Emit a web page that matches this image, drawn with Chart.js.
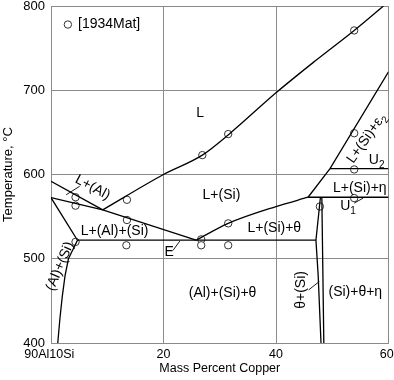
<!DOCTYPE html>
<html>
<head>
<meta charset="utf-8">
<script src="https://cdn.jsdelivr.net/npm/chart.js@4.4.1/dist/chart.umd.min.js"></script>
<style>
  html, body { margin: 0; padding: 0; background: #fff; }
  #wrap { width: 394px; height: 380px; position: relative; }
</style>
</head>
<body>
<div id="wrap"><canvas id="phaseChart"></canvas></div>
<script>
// phase boundaries, [mass % Cu, temperature °C]
const liquidusAl = [[0, 592], [9.2, 558]];
const liquidusSi = [[9.2, 558], [20, 600], [26.9, 623], [31.5, 647], [40, 697], [47, 735], [53.9, 771], [59.1, 800]];
const alSiTrough = [[0, 572.5], [9.2, 558], [25.8, 522]];
const alSolvus = [[0, 572.5], [4.7, 522], [3.9, 511], [3.1, 500], [2.5, 480], [2.0, 455], [1.6, 430], [1.2, 400]];
const eutecticE = [[4.7, 522], [47.1, 522]];
const thetaTrough = [[25.8, 522], [31.5, 542], [40, 562], [45.7, 573]];
const u1Line = [[45.7, 573], [60, 573]];
const etaTrough = [[45.7, 573], [49.6, 607], [60, 722]];
const u2Line = [[49.6, 607], [60, 607]];
const thetaLeft = [[47.9, 573], [47.1, 522], [47.5, 480], [48.0, 400]];
const thetaRight = [[48.15, 573], [48.5, 400]];

// leader ticks from labels
const leaders = [
  [[2.7, 576], [5.1, 586]],
  [[21.7, 510], [22.9, 521]],
  [[45.8, 463], [47.7, 473]],
  [[53.9, 566], [55.5, 572]]
];

// experimental points [1934Mat]
const matX = [4.36, 4.36, 4.36, 13.5, 13.5, 13.4, 26.7, 26.7, 26.9, 31.5, 31.5, 31.5, 47.8, 53.9, 53.9, 53.9, 53.9];
const matT = [573, 563, 520, 570, 546, 516, 523, 516, 623, 648, 542, 516, 562, 572, 606, 649, 771];
const legendPoint = [3.0, 778];

const xTicks = [0, 20, 40, 60];
const xTickNames = ['90Al10Si ', '20', '40', '60 '];
const yTicks = [400, 500, 600, 700, 800];

const regionLabels = [
  { text: '[1934Mat]', x: 4.8, y: 778, align: 'left' },
  { text: 'L', x: 26.5, y: 673 },
  { text: 'L+(Si)', x: 30.3, y: 576 },
  { text: 'L+(Si)+θ', x: 39.7, y: 536.5 },
  { text: 'L+(Al)+(Si)', x: 11.3, y: 533 },
  { text: 'L+(Al)', x: 7.4, y: 584.5, rot: 28 },
  { text: '(Al)+(Si)', x: 1.6, y: 491, rot: -67 },
  { text: 'E', x: 21.0, y: 508.4 },
  { text: '(Al)+(Si)+θ', x: 30.5, y: 459.4 },
  { text: 'θ+(Si)', x: 44.4, y: 463, rot: -90 },
  { text: '(Si)+θ+η', x: 54.1, y: 460.5 },
  { text: 'L+(Si)+η', x: 54.9, y: 584 },
  { text: 'U', sub: '2', x: 57.9, y: 617 },
  { text: 'U', sub: '1', x: 52.8, y: 562.6 },
  { text: 'L+(Si)+ε', sub: '2', x: 56.1, y: 643, rot: -55 }
];

const FONT = '"Liberation Sans", Arial, sans-serif';

const toPts = arr => arr.map(p => ({ x: p[0], y: p[1] }));

const lineSet = (pts, smooth) => ({
  data: toPts(pts),
  showLine: true,
  borderColor: '#000',
  borderWidth: 1.3,
  pointRadius: 0,
  fill: false,
  cubicInterpolationMode: smooth ? 'monotone' : 'default',
  tension: 0
});

const datasets = [
  lineSet(liquidusAl),
  lineSet(liquidusSi, true),
  lineSet(alSiTrough),
  lineSet(alSolvus),
  lineSet(eutecticE),
  lineSet(thetaTrough, true),
  lineSet(u1Line),
  lineSet(etaTrough),
  lineSet(u2Line),
  lineSet(thetaLeft),
  lineSet(thetaRight)
];
leaders.forEach(l => {
  const d = lineSet(l);
  d.borderWidth = 0.9;
  datasets.push(d);
});
datasets.push({
  data: matX.map((v, i) => ({ x: v, y: matT[i] })).concat([{ x: legendPoint[0], y: legendPoint[1] }]),
  showLine: false,
  pointRadius: 3.7,
  pointBorderWidth: 1,
  pointBorderColor: '#333',
  pointBackgroundColor: '#fff'
});

const labelPlugin = {
  id: 'regionLabels',
  afterDatasetsDraw(chart) {
    const { ctx, scales } = chart;
    ctx.save();
    ctx.fillStyle = '#000';
    ctx.textBaseline = 'middle';
    regionLabels.forEach(l => {
      const px = scales.x.getPixelForValue(l.x);
      const py = scales.y.getPixelForValue(l.y);
      ctx.save();
      ctx.translate(px, py);
      ctx.rotate((l.rot || 0) * Math.PI / 180);
      const main = '14px ' + FONT;
      const small = '10px ' + FONT;
      ctx.font = main;
      const w = ctx.measureText(l.text).width;
      let sw = 0;
      if (l.sub) {
        ctx.font = small;
        sw = ctx.measureText(l.sub).width;
      }
      const start = l.align === 'left' ? 0 : -(w + sw) / 2;
      ctx.textAlign = 'left';
      ctx.font = main;
      ctx.fillText(l.text, start, 0);
      if (l.sub) {
        ctx.font = small;
        ctx.fillText(l.sub, start + w, 5);
      }
      ctx.restore();
    });
    ctx.restore();
  }
};

new Chart(document.getElementById('phaseChart'), {
  type: 'scatter',
  data: { datasets },
  options: {
    responsive: true,
    maintainAspectRatio: false,
    animation: false,
    layout: { padding: { top: 6, right: 5.5, left: 0, bottom: 0 } },
    plugins: {
      legend: { display: false },
      tooltip: { enabled: false }
    },
    scales: {
      x: {
        type: 'linear',
        min: 0,
        max: 60,
        afterFit: s => {
          s.height = 37;
          s.paddingLeft = 0;
          s.paddingRight = 0;
        },
        afterBuildTicks: s => { s.ticks = xTicks.map(v => ({ value: v })); },
        ticks: {
          color: '#000',
          font: { family: FONT, size: 12.5 },
          padding: 4,
          maxRotation: 0,
          callback: v => xTickNames[xTicks.indexOf(v)]
        },
        grid: { color: '#8a8a8a', lineWidth: 1, drawTicks: false },
        border: { color: '#8a8a8a' },
        title: {
          display: true,
          text: 'Mass Percent Copper',
          color: '#000',
          font: { family: FONT, size: 12.5 },
          padding: { top: 0, bottom: 4 }
        }
      },
      y: {
        type: 'linear',
        min: 400,
        max: 800,
        afterFit: s => {
          s.width = 51;
          s.paddingTop = 0;
          s.paddingBottom = 0;
        },
        afterBuildTicks: s => { s.ticks = yTicks.map(v => ({ value: v })); },
        ticks: {
          color: '#000',
          font: { family: FONT, size: 13 },
          padding: 6
        },
        grid: { color: '#8a8a8a', lineWidth: 1, drawTicks: false },
        border: { color: '#8a8a8a' },
        title: {
          display: true,
          text: 'Temperature, °C',
          color: '#000',
          font: { family: FONT, size: 13 },
          padding: { top: 1, bottom: 0 }
        }
      }
    }
  },
  plugins: [labelPlugin]
});
</script>
</body>
</html>
